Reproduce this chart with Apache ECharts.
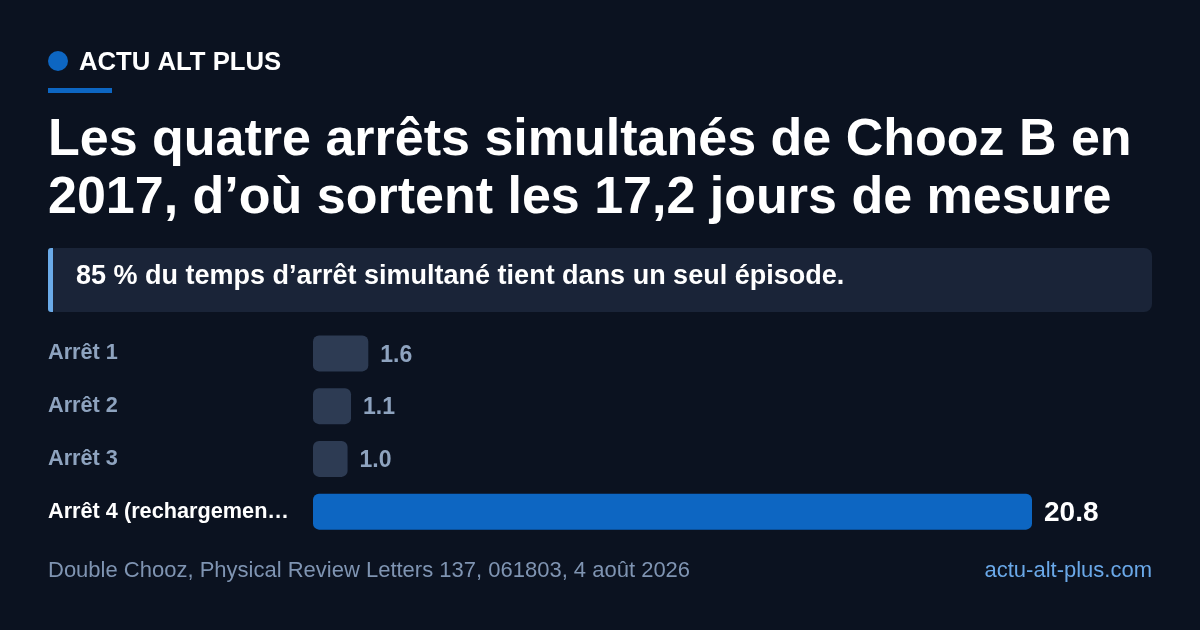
<!DOCTYPE html>
<html><head><meta charset="utf-8">
<script src="https://cdn.jsdelivr.net/npm/echarts@6/dist/echarts.min.js"></script>
<style>html,body{margin:0;padding:0;background:#0b1220;}#c{width:1200px;height:630px;}</style>
</head><body><div id="c"></div>
<script>
const categories = ["Arrêt 1", "Arrêt 2", "Arrêt 3", "Arrêt 4 (rechargement du combustible)"];
const values = [1.6, 1.1, 1.0, 20.8];
const highlightIndex = 3;
const brand = "ACTU ALT PLUS";
const titleLines = ["Les quatre arrêts simultanés de Chooz B en", "2017, d’où sortent les 17,2 jours de mesure"];
const subtitle = "85 % du temps d’arrêt simultané tient dans un seul épisode.";
const source = "Double Chooz, Physical Review Letters 137, 061803, 4 août 2026";
const site = "actu-alt-plus.com";

const FONT = "Liberation Sans, Arial, sans-serif";
const chart = echarts.init(document.getElementById('c'), null, {renderer: 'canvas'});
chart.setOption({
  backgroundColor: '#0b1220',
  animation: false,
  textStyle: {fontFamily: FONT},
  grid: {left: 313, right: 168, top: 327, height: 211, containLabel: false},
  xAxis: {type: 'value', min: 0, max: 20.8, show: false},
  yAxis: {
    type: 'category', inverse: true, data: categories,
    axisLine: {show: false}, axisTick: {show: false}, splitLine: {show: false},
    axisLabel: {
      align: 'left', margin: 265, width: 245, overflow: 'truncate', ellipsis: '…',
      fontFamily: FONT, fontWeight: 'bold', fontSize: 21.7,
      color: (v, i) => i === highlightIndex ? '#ffffff' : '#8ea3bf'
    }
  },
  series: [{
    type: 'bar', barWidth: 36,
    data: values.map((v, i) => ({
      value: v,
      itemStyle: {color: i === highlightIndex ? '#0d66c2' : '#2d3b53', borderRadius: 6},
      label: i === highlightIndex
        ? {color: '#ffffff', fontSize: 28, fontWeight: 'bold'}
        : {color: '#8ea3bf', fontSize: 23, fontWeight: 'bold'}
    })),
    label: {show: true, position: 'right', distance: 12, offset: [0, 2], fontFamily: FONT,
      formatter: p => p.value.toFixed(1)}
  }],
  graphic: [
    {type: 'circle', shape: {cx: 58, cy: 61, r: 10}, style: {fill: '#0d66c2'}},
    {type: 'text', x: 79, y: 63, style: {text: brand, fill: '#ffffff', font: 'bold 25.7px ' + FONT, textVerticalAlign: 'middle'}},
    {type: 'rect', shape: {x: 48, y: 88, width: 64, height: 5}, style: {fill: '#0d66c2'}},
    {type: 'text', x: 48, y: 141, style: {text: titleLines[0], fill: '#ffffff', font: 'bold 52px ' + FONT, textVerticalAlign: 'middle'}},
    {type: 'text', x: 48, y: 199, style: {text: titleLines[1], fill: '#ffffff', font: 'bold 52px ' + FONT, textVerticalAlign: 'middle'}},
    {type: 'rect', shape: {x: 48, y: 248, width: 1104, height: 64, r: 8}, style: {fill: '#1a2438'}},
    {type: 'rect', shape: {x: 48, y: 248, width: 5, height: 64, r: [3, 0, 0, 3]}, style: {fill: '#6aaae8'}},
    {type: 'text', x: 76, y: 277, style: {text: subtitle, fill: '#ffffff', font: 'bold 27px ' + FONT, textVerticalAlign: 'middle'}},
    {type: 'text', x: 48, y: 571, style: {text: source, fill: '#7f94b2', font: '22px ' + FONT, textVerticalAlign: 'middle'}},
    {type: 'text', x: 1152, y: 571, style: {text: site, fill: '#6aa8e8', font: '22px ' + FONT, textAlign: 'right', textVerticalAlign: 'middle'}}
  ]
});
</script></body></html>
